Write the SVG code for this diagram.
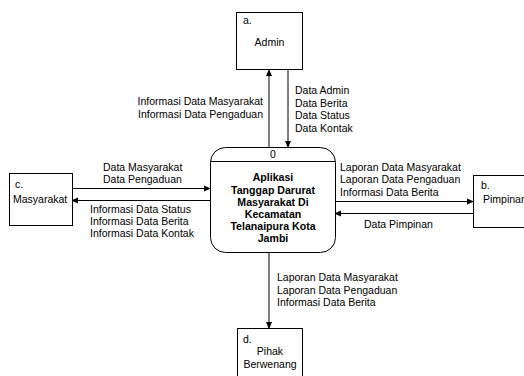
<svg xmlns="http://www.w3.org/2000/svg" width="524" height="376" viewBox="0 0 524 376">
  <defs>
    <marker id="arrow" viewBox="0 0 8 8" refX="7" refY="4" markerWidth="7" markerHeight="7" orient="auto" markerUnits="userSpaceOnUse">
      <path d="M0,0.5 L8,4 L0,7.5 Z" fill="#000"/>
    </marker>
    <style>
      .box { fill: #fff; stroke: #000; stroke-width: 1; }
      .edge { fill: none; stroke: #000; stroke-width: 1; marker-end: url(#arrow); }
      text { font-family: "Liberation Sans", Arial, sans-serif; font-size: 10.5px; fill: #000; }
      .c { text-anchor: middle; }
      .r { text-anchor: end; }
      .b { font-weight: bold; font-size: 10.6px; }
    </style>
  </defs>
  <rect width="524" height="376" fill="#fff"/>

  <!-- connectors -->
  <g id="connectors">
    <line class="edge" x1="269" y1="147" x2="269" y2="70"/>
    <line class="edge" x1="288" y1="69" x2="288" y2="147"/>
    <line class="edge" x1="72" y1="188.5" x2="210" y2="188.5"/>
    <line class="edge" x1="210" y1="200.5" x2="72" y2="200.5"/>
    <line class="edge" x1="335" y1="201.5" x2="473" y2="201.5"/>
    <line class="edge" x1="473" y1="213.5" x2="335" y2="213.5"/>
    <line class="edge" x1="269" y1="252" x2="269" y2="328"/>

    <text class="r" x="263" y="105">Informasi Data Masyarakat</text>
    <text class="r" x="263" y="118">Informasi Data Pengaduan</text>

    <text x="295" y="94">Data Admin</text>
    <text x="295" y="106.5">Data Berita</text>
    <text x="295" y="119">Data Status</text>
    <text x="295" y="131.5">Data Kontak</text>

    <text x="103" y="171">Data Masyarakat</text>
    <text x="103" y="183">Data Pengaduan</text>

    <text x="90" y="213">Informasi Data Status</text>
    <text x="90" y="225">Informasi Data Berita</text>
    <text x="90" y="237">Informasi Data Kontak</text>

    <text x="340" y="170.5">Laporan Data Masyarakat</text>
    <text x="340" y="183">Laporan Data Pengaduan</text>
    <text x="340" y="195.5">Informasi Data Berita</text>

    <text x="364" y="228">Data Pimpinan</text>

    <text x="277" y="281">Laporan Data Masyarakat</text>
    <text x="277" y="293.5">Laporan Data Pengaduan</text>
    <text x="277" y="306">Informasi Data Berita</text>
  </g>

  <!-- external entity: Admin -->
  <g id="admin">
    <rect class="box" x="236.5" y="12.5" width="66" height="57"/>
    <text x="243" y="24">a.</text>
    <text class="c" x="269.5" y="46">Admin</text>
  </g>

  <!-- process 0 -->
  <g id="process">
    <rect class="box" x="210.5" y="147.5" width="125" height="105" rx="15" ry="15"/>
    <line x1="210.5" y1="161.5" x2="335.5" y2="161.5" stroke="#000" stroke-width="1"/>
    <text class="c" x="273" y="158">0</text>
    <text class="c b" x="273" y="181">Aplikasi</text>
    <text class="c b" x="273" y="193.5">Tanggap Darurat</text>
    <text class="c b" x="273" y="206">Masyarakat Di</text>
    <text class="c b" x="273" y="218">Kecamatan</text>
    <text class="c b" x="273" y="230">Telanaipura Kota</text>
    <text class="c b" x="273" y="242">Jambi</text>
  </g>

  <!-- external entity: Masyarakat -->
  <g id="masyarakat">
    <rect class="box" x="9.5" y="173.5" width="63" height="52"/>
    <text x="15" y="188">c.</text>
    <text x="13" y="203">Masyarakat</text>
  </g>

  <!-- external entity: Pimpinan -->
  <g id="pimpinan">
    <rect class="box" x="473.5" y="175.5" width="60" height="52"/>
    <text x="481" y="189">b.</text>
    <text x="483" y="203">Pimpinan</text>
  </g>

  <!-- external entity: Pihak Berwenang -->
  <g id="pihak">
    <rect class="box" x="237.5" y="328.5" width="65" height="60"/>
    <text x="243" y="343">d.</text>
    <text class="c" x="270" y="355">Pihak</text>
    <text class="c" x="270" y="368">Berwenang</text>
  </g>
</svg>
